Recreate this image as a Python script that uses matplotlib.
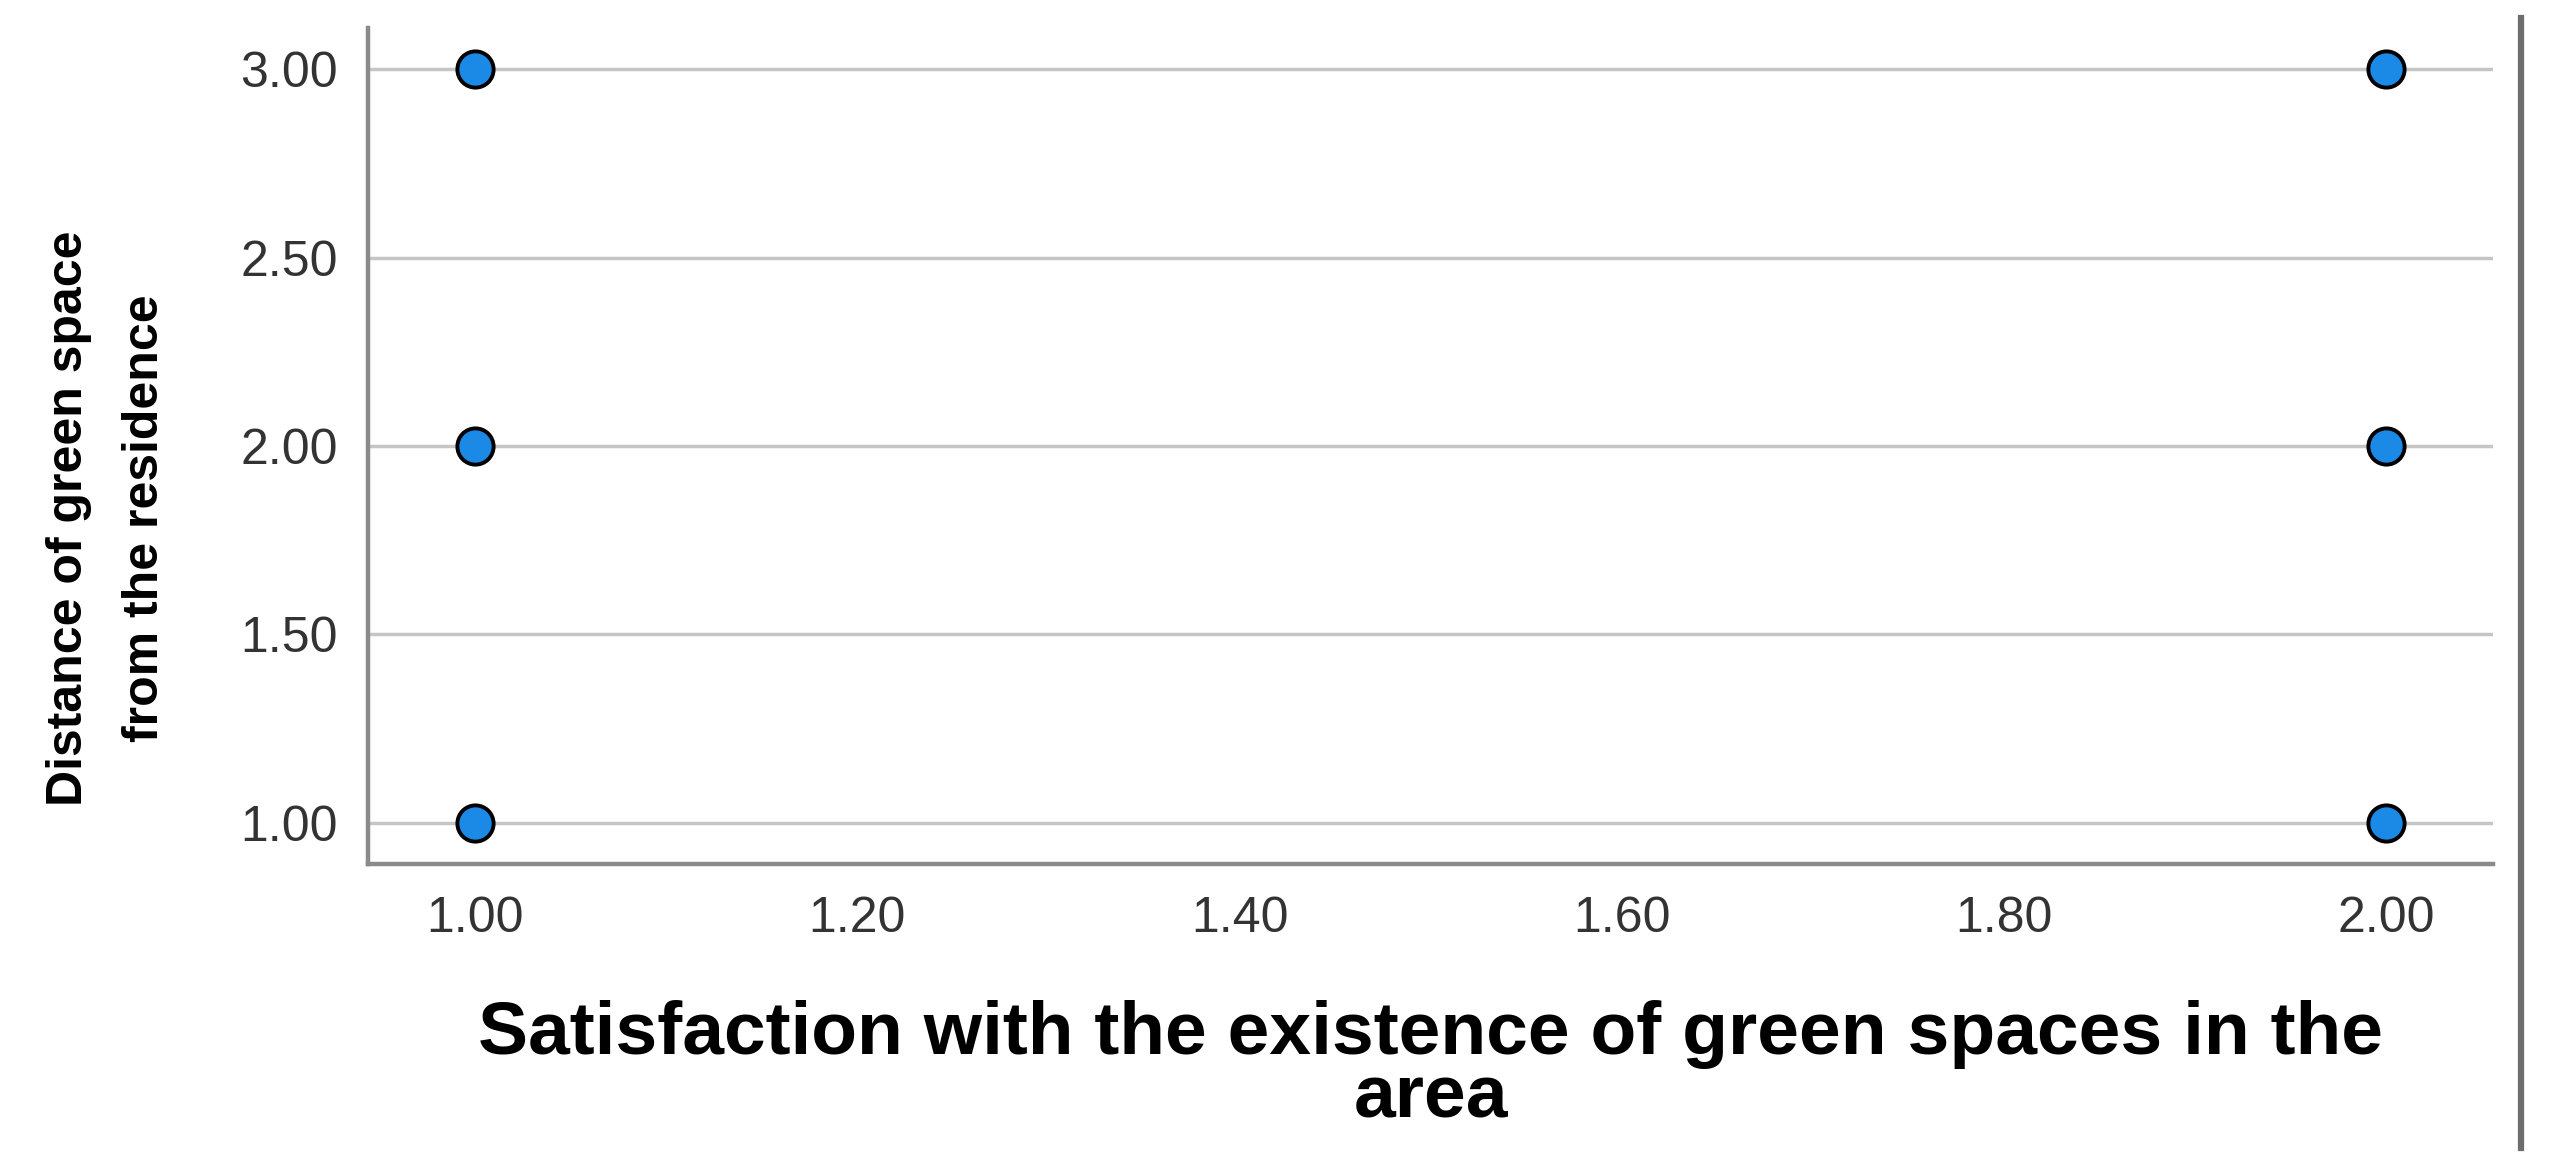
import matplotlib.pyplot as plt
from matplotlib.lines import Line2D

# data
satisfaction = [1.0, 1.0, 1.0, 2.0, 2.0, 2.0]
distance = [3.0, 2.0, 1.0, 3.0, 2.0, 1.0]
x_ticks = [1.00, 1.20, 1.40, 1.60, 1.80, 2.00]
y_ticks = [1.00, 1.50, 2.00, 2.50, 3.00]

plt.rcParams['font.family'] = ['Liberation Sans', 'DejaVu Sans']

fig = plt.figure(figsize=(25.51, 11.67), dpi=100)
ax = fig.add_axes([0.1443, 0.2596, 0.8330, 0.7164])

# horizontal gridlines only
for y in y_ticks:
    ax.axhline(y, color='#c6c6c6', lw=2.5, zorder=1)

ax.scatter(satisfaction, distance, s=680, c='#1a8ae6', edgecolors='black',
           linewidths=2.8, zorder=3)

ax.set_xlim(0.944, 2.056)
ax.set_ylim(0.891, 3.109)
ax.set_xticks(x_ticks)
ax.set_xticklabels([f'{v:.2f}' for v in x_ticks])
ax.set_yticks(y_ticks)
ax.set_yticklabels([f'{v:.2f}' for v in y_ticks])
ax.tick_params(length=0, labelsize=36, labelcolor='#333333')
ax.tick_params(axis='x', pad=23)
ax.tick_params(axis='y', pad=22)

for side in ['top', 'right']:
    ax.spines[side].set_visible(False)
for side in ['left', 'bottom']:
    ax.spines[side].set_color('#8a8a8a')
    ax.spines[side].set_linewidth(3.2)

ax.set_xlabel('Satisfaction with the existence of green spaces in the\narea',
              fontsize=54, fontweight='bold', linespacing=0.9)
ax.xaxis.set_label_coords(0.5, -0.163)
ax.set_ylabel('Distance of green space\nfrom the residence',
              fontsize=36, fontweight='bold', linespacing=1.85)
ax.yaxis.set_label_coords(-0.094, 0.414)

# dark vertical rule at the right edge of the figure
fig.add_artist(Line2D([0.9882, 0.9882], [0.0163, 0.9846], transform=fig.transFigure,
                      color='#6e6e6e', lw=4.5))

fig.savefig('out.png', dpi=100, facecolor='white')
